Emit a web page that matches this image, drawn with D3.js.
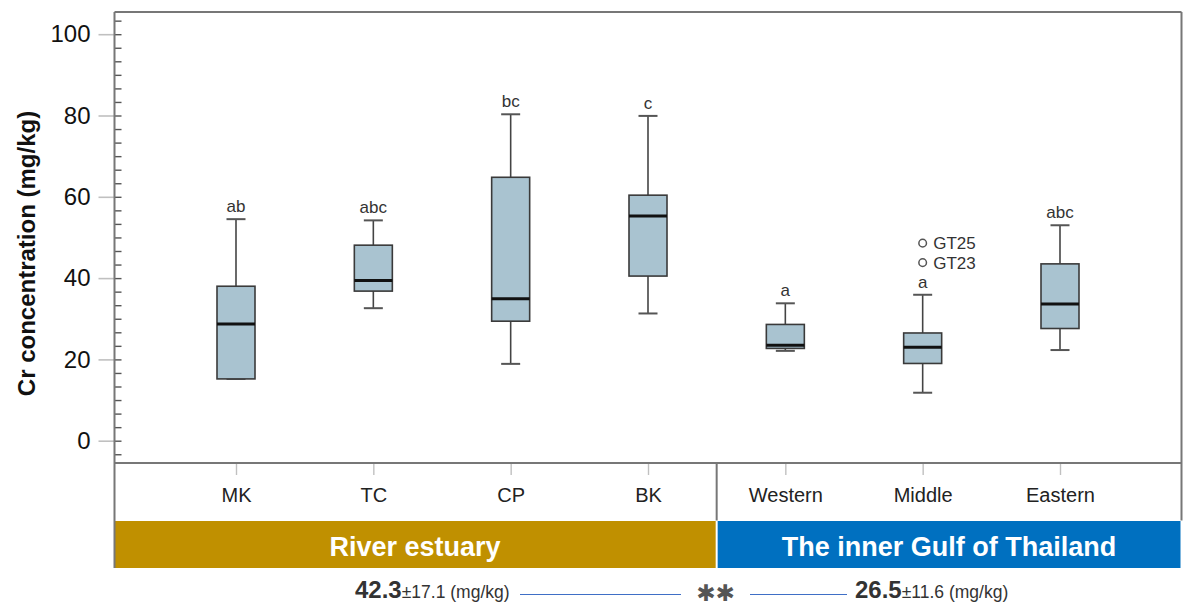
<!DOCTYPE html>
<html>
<head>
<meta charset="utf-8">
<script src="https://cdn.jsdelivr.net/npm/d3@7"></script>
<style>
  html, body { margin: 0; padding: 0; background: #ffffff; }
  svg { display: block; font-family: "Liberation Sans", Arial, Helvetica, sans-serif; }
</style>
</head>
<body>
<svg id="chart" width="1186" height="606"></svg>
<script>
// Cr concentration by sampling site (box plot summaries, mg/kg)
const categories   = ["MK", "TC", "CP", "BK", "Western", "Middle", "Eastern"];
const whiskerLow   = [15.2, 32.6, 18.9, 31.3, 22.1, 11.8, 22.3];
const q1Values     = [15.2, 36.8, 29.4, 40.5, 22.7, 19.0, 27.6];
const medianValues = [28.7, 39.4, 34.9, 55.3, 23.5, 23.0, 33.6];
const q3Values     = [38.0, 48.1, 64.8, 60.4, 28.6, 26.5, 43.5];
const whiskerHigh  = [54.5, 54.2, 80.3, 79.9, 33.8, 35.9, 53.0];
const sigLetters   = ["ab", "abc", "bc", "c", "a", "a", "abc"];

// Outlying samples
const outlierSite  = ["Middle", "Middle"];
const outlierValue = [48.6, 43.8];
const outlierName  = ["GT25", "GT23"];

// Site groups
const groupNames   = ["River estuary", "The inner Gulf of Thailand"];
const groupSites   = [["MK", "TC", "CP", "BK"], ["Western", "Middle", "Eastern"]];
const groupColors  = ["#c09000", "#0070c0"];
const groupMeans   = [42.3, 26.5];
const groupSD      = [17.1, 11.6];
const diffMark     = "\u2731\u2731";

const yTicks = [0, 20, 40, 60, 80, 100];

const svg = d3.select("#chart");

const frame = { left: 114.5, right: 1181.5, top: 12, bottom: 463 };
const labelRowBottom = 520.5;
const bandTop = 521, bandBottom = 568;

const y = d3.scaleLinear().domain([0, 100]).range([440.7, 34.2]);
const x = d3.scalePoint().domain(categories).range([236, 1060]);

const boxW = 38, capW = 19;
const frameColor = "#777777";

// minor ticks every 20/6 units inside the frame
const minorStep = 20 / 6;
const minorTicks = d3.range(-1, 32).map(i => i * minorStep).filter(v => y(v) > frame.top + 2 && y(v) < frame.bottom - 2);

svg.append("g")
  .attr("transform", `translate(${frame.left},0)`)
  .call(d3.axisRight(y).tickValues(minorTicks).tickSize(7).tickFormat(""))
  .call(g => g.select(".domain").remove())
  .call(g => g.selectAll("line").attr("stroke", "#555").attr("stroke-width", 1.4));

// major ticks outside
svg.append("g")
  .attr("transform", `translate(${frame.left},0)`)
  .call(d3.axisLeft(y).tickValues(yTicks).tickSize(16).tickPadding(8))
  .call(g => g.select(".domain").remove())
  .call(g => g.selectAll("line").attr("stroke", "#c0c0c0").attr("stroke-width", 1.6))
  .call(g => g.selectAll("text").attr("font-size", 24).attr("fill", "#111"));

// y title
svg.append("text")
  .attr("transform", `translate(35,${(frame.top + frame.bottom) / 2 + 16}) rotate(-90)`)
  .attr("text-anchor", "middle")
  .attr("font-size", 24)
  .attr("font-weight", "bold")
  .attr("fill", "#111")
  .text("Cr concentration (mg/kg)");

// boxes
const idx = d3.range(categories.length);
const boxes = svg.append("g");

boxes.selectAll("line.whisker-up").data(idx).join("line")
  .attr("x1", i => x(categories[i])).attr("x2", i => x(categories[i]))
  .attr("y1", i => y(q3Values[i])).attr("y2", i => y(whiskerHigh[i]))
  .attr("stroke", "#444").attr("stroke-width", 1.6);

boxes.selectAll("line.whisker-down").data(idx).join("line")
  .attr("x1", i => x(categories[i])).attr("x2", i => x(categories[i]))
  .attr("y1", i => y(q1Values[i])).attr("y2", i => y(whiskerLow[i]))
  .attr("stroke", "#444").attr("stroke-width", 1.6);

boxes.selectAll("line.cap-up").data(idx).join("line")
  .attr("x1", i => x(categories[i]) - capW / 2).attr("x2", i => x(categories[i]) + capW / 2)
  .attr("y1", i => y(whiskerHigh[i])).attr("y2", i => y(whiskerHigh[i]))
  .attr("stroke", "#555").attr("stroke-width", 2);

boxes.selectAll("line.cap-down").data(idx).join("line")
  .attr("x1", i => x(categories[i]) - capW / 2).attr("x2", i => x(categories[i]) + capW / 2)
  .attr("y1", i => y(whiskerLow[i])).attr("y2", i => y(whiskerLow[i]))
  .attr("stroke", "#555").attr("stroke-width", 2);

boxes.selectAll("rect.box").data(idx).join("rect")
  .attr("x", i => x(categories[i]) - boxW / 2)
  .attr("width", boxW)
  .attr("y", i => y(q3Values[i]))
  .attr("height", i => y(q1Values[i]) - y(q3Values[i]))
  .attr("fill", "#a9c3d0")
  .attr("stroke", "#3a3a3a")
  .attr("stroke-width", 1.6);

boxes.selectAll("line.median").data(idx).join("line")
  .attr("x1", i => x(categories[i]) - boxW / 2).attr("x2", i => x(categories[i]) + boxW / 2)
  .attr("y1", i => y(medianValues[i])).attr("y2", i => y(medianValues[i]))
  .attr("stroke", "#111").attr("stroke-width", 3);

boxes.selectAll("text.letter").data(idx).join("text")
  .attr("x", i => x(categories[i]))
  .attr("y", i => y(whiskerHigh[i]) - 7)
  .attr("text-anchor", "middle")
  .attr("font-size", 17)
  .attr("fill", "#333")
  .text(i => sigLetters[i]);

// outliers
const oIdx = d3.range(outlierValue.length);
boxes.selectAll("circle.outlier").data(oIdx).join("circle")
  .attr("cx", i => x(outlierSite[i]))
  .attr("cy", i => y(outlierValue[i]))
  .attr("r", 3.8)
  .attr("fill", "none")
  .attr("stroke", "#555")
  .attr("stroke-width", 1.5);

boxes.selectAll("text.outlier").data(oIdx).join("text")
  .attr("x", i => x(outlierSite[i]) + 10.5)
  .attr("y", i => y(outlierValue[i]) + 6)
  .attr("font-size", 17)
  .attr("fill", "#333")
  .text(i => outlierName[i]);

// category axis row
svg.append("g")
  .attr("transform", `translate(0,${frame.bottom})`)
  .call(d3.axisBottom(x).tickSize(12).tickPadding(13))
  .call(g => g.select(".domain").remove())
  .call(g => g.selectAll("line").attr("stroke", "#c0c0c0").attr("stroke-width", 1.4))
  .call(g => g.selectAll("text").attr("font-size", 20).attr("fill", "#222"));

// group bands
const step = x.step();
const groupX0 = groupSites.map((s, g) => g === 0 ? frame.left : x(s[0]) - step / 2 + 1);
const groupX1 = groupSites.map((s, g) => g === 0 ? x(s[s.length - 1]) + step / 2 - 1 : frame.right - 1);

svg.selectAll("rect.band").data(groupNames).join("rect")
  .attr("x", (d, g) => groupX0[g])
  .attr("width", (d, g) => groupX1[g] - groupX0[g])
  .attr("y", bandTop)
  .attr("height", bandBottom - bandTop)
  .attr("fill", (d, g) => groupColors[g]);

svg.selectAll("text.band").data(groupNames).join("text")
  .attr("x", (d, g) => (groupX0[g] + groupX1[g]) / 2)
  .attr("y", 555.5)
  .attr("text-anchor", "middle")
  .attr("font-size", 27)
  .attr("font-weight", "bold")
  .attr("fill", "#ffffff")
  .text(d => d);

// frame lines
const divX = (x(groupSites[0][groupSites[0].length - 1]) + x(groupSites[1][0])) / 2;
const frameG = svg.append("g").attr("stroke", frameColor).attr("stroke-width", 2).attr("fill", "none");
frameG.append("line").attr("x1", frame.left).attr("x2", frame.right).attr("y1", frame.top).attr("y2", frame.top);
frameG.append("line").attr("x1", frame.left).attr("x2", frame.right).attr("y1", frame.bottom).attr("y2", frame.bottom);
frameG.append("line").attr("x1", frame.left).attr("x2", frame.left).attr("y1", frame.top).attr("y2", bandBottom);
frameG.append("line").attr("x1", frame.right).attr("x2", frame.right).attr("y1", frame.top).attr("y2", labelRowBottom);
frameG.append("line").attr("x1", divX).attr("x2", divX).attr("y1", frame.bottom).attr("y2", labelRowBottom);

// group means comparison
const summaryY = 598;
const summaryX = [355, 855];
groupMeans.forEach((m, g) => {
  const t = svg.append("text").attr("x", summaryX[g]).attr("y", summaryY).attr("fill", "#333");
  t.append("tspan").attr("font-size", 24).attr("font-weight", "bold").text(d3.format(".1f")(m));
  t.append("tspan").attr("font-size", 17.5).text("±" + d3.format(".1f")(groupSD[g]));
  t.append("tspan").attr("font-size", 17.5).text(" (mg/kg)");
});

svg.append("line").attr("x1", 520).attr("x2", 681).attr("y1", 594.5).attr("y2", 594.5)
  .attr("stroke", "#3f6fc6").attr("stroke-width", 1);
svg.append("line").attr("x1", 750).attr("x2", 847).attr("y1", 594.5).attr("y2", 594.5)
  .attr("stroke", "#3f6fc6").attr("stroke-width", 1);
svg.append("text").attr("x", 715.5).attr("y", 593)
  .attr("text-anchor", "middle")
  .attr("dominant-baseline", "central")
  .attr("font-family", "DejaVu Sans")
  .attr("font-weight", "bold")
  .attr("font-size", 23)
  .attr("letter-spacing", 0)
  .attr("fill", "#555")
  .text(diffMark);
</script>
</body>
</html>
